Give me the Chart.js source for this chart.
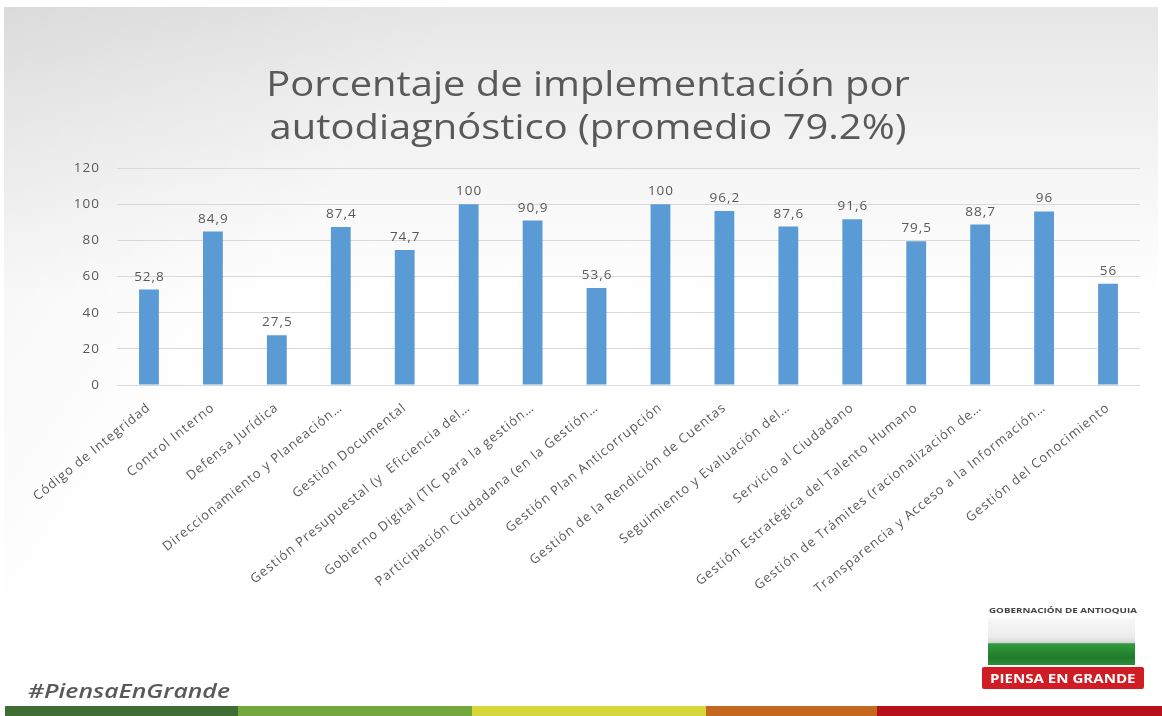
<!DOCTYPE html>
<html>
<head>
<meta charset="utf-8">
<script src="https://cdn.jsdelivr.net/npm/chart.js@4"></script>
<style>
  html, body { margin: 0; padding: 0; background: #fff; }
  body { width: 1162px; height: 716px; position: relative; overflow: hidden; font-family: "Open Sans", sans-serif; }
  #slide {
    position: absolute; left: 4px; top: 7px; width: 1154px; height: 699px;
    background:
      linear-gradient(125deg, rgba(0,0,0,0.05) 0px, rgba(0,0,0,0.0) 380px),
      linear-gradient(to bottom, #e6e6e6 0px, #efefef 90px, #f8f8f8 200px, #ffffff 290px);
  }
  #wrap { position: absolute; left: 0; top: 0; width: 1162px; height: 716px; }
  #hashtag {
    position: absolute; left: 28px; top: 677px; font-size: 19.5px; font-style: italic;
    font-weight: 600; color: #595959; transform: scaleX(1.27); transform-origin: left center;
  }
  #stripe { position: absolute; left: 5px; top: 706px; height: 10px; width: 1157px; display: flex; }
  #stripe div { height: 100%; }
  #logo-text {
    position: absolute; left: 989px; top: 606px; font-size: 7px; font-weight: 700;
    color: #444; white-space: nowrap; transform: scaleX(1.4); transform-origin: left center;
  }
  #flag {
    position: absolute; left: 988px; top: 618px; width: 147px; height: 47px;
    background: linear-gradient(to bottom, #f8f8f8 0, #ececec 40%, #d8d8d8 52%, #2f9a3c 55%, #1f7a2c 85%, #2c8f38 100%);
  }
  #badge {
    position: absolute; left: 982px; top: 667px; width: 162px; height: 22px; background: #d01c25;
    border-radius: 2px; overflow: hidden;
  }
  #badge span {
    position: absolute; left: 8px; top: 0; color: #fff; font-size: 13px; font-weight: 700;
    line-height: 22px; white-space: nowrap; transform: scaleX(1.16); transform-origin: left center;
  }
</style>
</head>
<body>
<div id="slide"></div>
<div id="wrap"><canvas id="myChart" width="1162" height="716"></canvas></div>
<div id="hashtag">#PiensaEnGrande</div>
<div id="logo-text">GOBERNACIÓN DE ANTIOQUIA</div>
<div id="flag"></div>
<div id="badge"><span>PIENSA EN GRANDE</span></div>
<div id="stripe">
  <div style="width:233px;background:#3f6e35"></div>
  <div style="width:234px;background:#72a83e"></div>
  <div style="width:234px;background:#d6d83a"></div>
  <div style="width:171px;background:#c5681f"></div>
  <div style="flex:1;background:#b51118"></div>
</div>
<script>
const categories = [
    "Código de Integridad",
    "Control Interno",
    "Defensa Jurídica",
    "Direccionamiento y Planeación…",
    "Gestión Documental",
    "Gestión Presupuestal (y  Eficiencia del…",
    "Gobierno Digital (TIC para la gestión…",
    "Participación Ciudadana (en la Gestión…",
    "Gestión Plan Anticorrupción",
    "Gestión de la Rendición de Cuentas",
    "Seguimiento y Evaluación del…",
    "Servicio al Ciudadano",
    "Gestión Estratégica del Talento Humano",
    "Gestión de Trámites (racionalización de…",
    "Transparencia y Acceso a la Información…",
    "Gestión del Conocimiento"
];
const porcentajes = [52.8, 84.9, 27.5, 87.4, 74.7, 100, 90.9, 53.6, 100, 96.2, 87.6, 91.6, 79.5, 88.7, 96, 56];
const yTicks = [0, 20, 40, 60, 80, 100, 120];

const titleLines = ["Porcentaje de implementación por", "autodiagnóstico (promedio 79.2%)"];
const textColor = "#595959";

// the original slide is stretched sideways, so text gets a bit of spacing
const wideText = {
    id: 'wideText',
    beforeDraw(chart) { chart.ctx.letterSpacing = '1px'; },
    afterDraw(chart) { chart.ctx.letterSpacing = '0px'; }
};

// two-line title, drawn stretched horizontally
const stretchedTitle = {
    id: 'stretchedTitle',
    afterDraw(chart) {
        const ctx = chart.ctx;
        ctx.save();
        ctx.letterSpacing = '0px';
        ctx.font = '35px "Open Sans"';
        ctx.fillStyle = textColor;
        ctx.textAlign = 'center';
        ctx.textBaseline = 'middle';
        const cx = 588, stretch = 1.14;
        ctx.translate(cx, 0);
        ctx.scale(stretch, 1);
        ctx.fillText(titleLines[0], 0, 86);
        ctx.fillText(titleLines[1], 0, 129);
        ctx.restore();
    }
};

// values above each bar, decimal comma like the original
const valueLabels = {
    id: 'valueLabels',
    afterDatasetsDraw(chart) {
        const ctx = chart.ctx;
        const meta = chart.getDatasetMeta(0);
        ctx.save();
        ctx.font = '13.5px "Open Sans"';
        ctx.letterSpacing = '1px';
        ctx.fillStyle = textColor;
        ctx.textAlign = 'center';
        ctx.textBaseline = 'bottom';
        meta.data.forEach((bar, i) => {
            const txt = String(chart.data.datasets[0].data[i]).replace('.', ',');
            ctx.fillText(txt, bar.x + 0.5, bar.y - 6);
        });
        ctx.restore();
    }
};

window.addEventListener('DOMContentLoaded', () => {
    const ctx = document.getElementById('myChart').getContext('2d');
    new Chart(ctx, {
        type: 'bar',
        data: {
            labels: categories,
            datasets: [{
                label: 'Porcentaje',
                data: porcentajes,
                backgroundColor: '#5b9bd5',
                borderWidth: 0,
                barPercentage: 0.31,
                categoryPercentage: 1
            }]
        },
        options: {
            responsive: false,
            animation: false,
            layout: { padding: { top: 168, right: 22, bottom: 0, left: 0 } },
            plugins: {
                legend: { display: false },
                tooltip: { enabled: false },
                title: { display: false }
            },
            scales: {
                x: {
                    grid: { display: false },
                    border: { display: false },
                    ticks: {
                        color: textColor,
                        font: { family: '"Open Sans"', size: 13 },
                        minRotation: 39,
                        maxRotation: 39,
                        autoSkip: false,
                        padding: 7
                    },
                    afterFit(scale) { scale.height = 331; }
                },
                y: {
                    min: 0,
                    max: 120,
                    afterBuildTicks(scale) { scale.ticks = yTicks.map(v => ({ value: v })); },
                    grid: { color: '#d9d9d9', drawTicks: false },
                    border: { display: false },
                    ticks: {
                        color: textColor,
                        font: { family: '"Open Sans"', size: 13.5 },
                        padding: 17
                    },
                    afterFit(scale) { scale.width = 117; }
                }
            }
        },
        plugins: [wideText, valueLabels, stretchedTitle]
    });
});
</script>
</body>
</html>
